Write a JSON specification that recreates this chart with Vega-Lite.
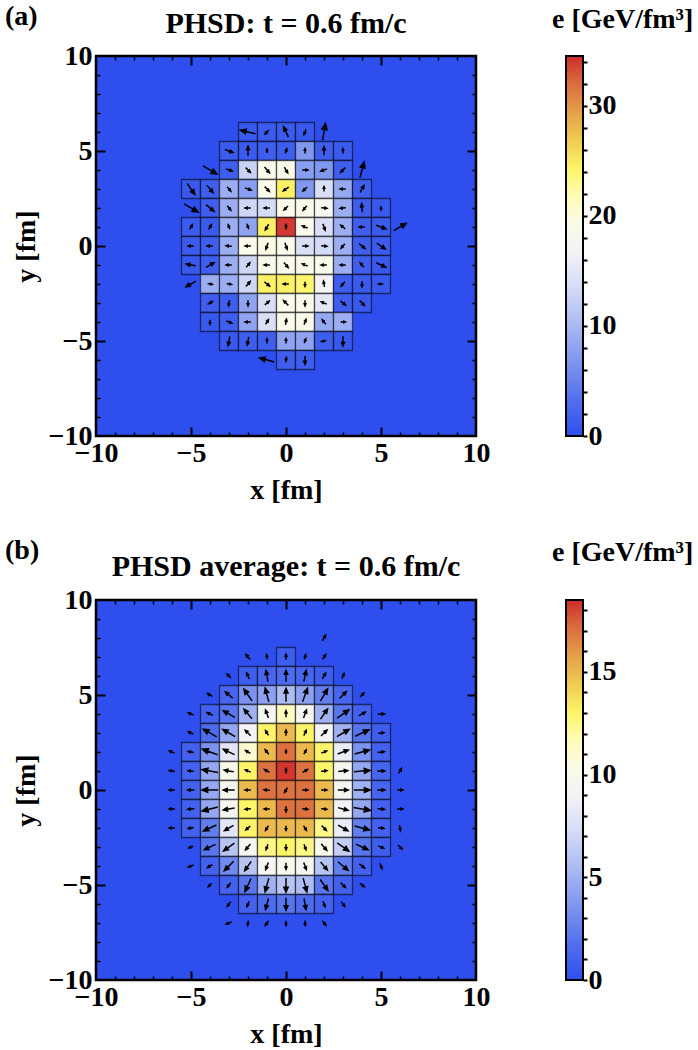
{
  "$schema": "https://vega.github.io/schema/vega-lite/v6.json",
  "background": "white",
  "padding": {"left": 5, "top": 3, "right": 5, "bottom": 0},
  "config": {
    "font": "Liberation Serif",
    "view": {"stroke": null},
    "title": {"font": "Liberation Serif", "fontSize": 28, "fontWeight": "bold", "color": "black", "baseline": "alphabetic"},
    "axis": {
      "labelFont": "Liberation Serif", "labelFontSize": 28, "labelFontWeight": "bold", "labelColor": "black",
      "titleFont": "Liberation Serif", "titleFontSize": 28, "titleFontWeight": "bold", "titleColor": "black",
      "grid": false, "domain": false, "tickColor": "black"
    }
  },
  "datasets": {
    "a": [
      {"x":-2,"y":6,"e":1,"a":283,"L":0.8},
      {"x":-1,"y":6,"e":1.2,"a":225,"L":0.3},
      {"x":0,"y":6,"e":1.2,"a":335,"L":0.6},
      {"x":1,"y":6,"e":1,"a":200,"L":0.3},
      {"x":2,"y":6,"a":10,"L":0.9},
      {"x":-3,"y":5,"e":1.2,"a":110,"L":0.45},
      {"x":-2,"y":5,"e":1.2,"a":0,"L":0.5},
      {"x":-1,"y":5,"e":1.5,"a":0,"L":0.2},
      {"x":0,"y":5,"e":1.5,"a":20,"L":0.25},
      {"x":1,"y":5,"e":7,"a":0,"L":0.25},
      {"x":2,"y":5,"e":1.5,"a":0,"L":0.45},
      {"x":3,"y":5,"e":1.2,"a":0,"L":0.25},
      {"x":-4,"y":4,"a":120,"L":0.85},
      {"x":-3,"y":4,"e":1.5,"a":110,"L":0.35},
      {"x":-2,"y":4,"e":12.5,"a":135,"L":0.35},
      {"x":-1,"y":4,"e":19,"a":140,"L":0.4},
      {"x":0,"y":4,"e":19,"a":150,"L":0.35},
      {"x":1,"y":4,"e":7.5,"a":90,"L":0.3},
      {"x":2,"y":4,"e":7,"a":250,"L":0.35},
      {"x":3,"y":4,"e":1.5,"a":225,"L":0.35},
      {"x":4,"y":4,"a":15,"L":0.85},
      {"x":-5,"y":3,"e":1,"a":145,"L":0.7},
      {"x":-4,"y":3,"e":1.5,"a":140,"L":0.5},
      {"x":-3,"y":3,"e":9,"a":140,"L":0.3},
      {"x":-2,"y":3,"e":7.5,"a":110,"L":0.35},
      {"x":-1,"y":3,"e":19,"a":135,"L":0.35},
      {"x":0,"y":3,"e":24.5,"a":235,"L":0.35},
      {"x":1,"y":3,"e":7,"a":225,"L":0.3},
      {"x":2,"y":3,"e":14,"a":0,"L":0.25},
      {"x":3,"y":3,"e":8.5,"a":270,"L":0.3},
      {"x":4,"y":3,"e":1.5,"a":30,"L":0.4},
      {"x":-5,"y":2,"a":120,"L":0.85},
      {"x":-4,"y":2,"e":1.5,"a":130,"L":0.55},
      {"x":-3,"y":2,"e":9,"a":140,"L":0.3},
      {"x":-2,"y":2,"e":13,"a":270,"L":0.3},
      {"x":-1,"y":2,"e":13.5,"a":270,"L":0.3},
      {"x":0,"y":2,"e":19,"a":225,"L":0.3},
      {"x":1,"y":2,"e":19,"a":220,"L":0.3},
      {"x":2,"y":2,"e":18,"a":95,"L":0.3},
      {"x":3,"y":2,"e":9,"a":265,"L":0.3},
      {"x":4,"y":2,"e":1.5,"a":355,"L":0.45},
      {"x":5,"y":2,"e":1,"a":180,"L":0.2},
      {"x":-5,"y":1,"e":1.2,"a":30,"L":0.3},
      {"x":-4,"y":1,"e":1.2,"a":30,"L":0.3},
      {"x":-3,"y":1,"e":9,"a":340,"L":0.25},
      {"x":-2,"y":1,"e":8,"a":340,"L":0.25},
      {"x":-1,"y":1,"e":24.5,"a":210,"L":0.35},
      {"x":0,"y":1,"e":34,"a":0,"L":0.25},
      {"x":1,"y":1,"e":19,"a":290,"L":0.3},
      {"x":2,"y":1,"e":14,"a":160,"L":0.35},
      {"x":3,"y":1,"e":9,"a":310,"L":0.3},
      {"x":4,"y":1,"e":1.5,"a":270,"L":0.3},
      {"x":5,"y":1,"e":1.2,"a":110,"L":0.55},
      {"x":6,"y":1,"a":60,"L":0.75},
      {"x":-5,"y":0,"e":1.2,"a":270,"L":0.3},
      {"x":-4,"y":0,"e":1.5,"a":270,"L":0.3},
      {"x":-3,"y":0,"e":9,"a":275,"L":0.3},
      {"x":-2,"y":0,"e":19,"a":270,"L":0.3},
      {"x":-1,"y":0,"e":19.5,"a":200,"L":0.35},
      {"x":0,"y":0,"e":19,"a":160,"L":0.35},
      {"x":1,"y":0,"e":14,"a":90,"L":0.3},
      {"x":2,"y":0,"e":13.5,"a":95,"L":0.3},
      {"x":3,"y":0,"e":9,"a":220,"L":0.3},
      {"x":4,"y":0,"e":1.5,"a":130,"L":0.4},
      {"x":5,"y":0,"e":1.2,"a":125,"L":0.55},
      {"x":-5,"y":-1,"e":1,"a":280,"L":0.5},
      {"x":-4,"y":-1,"e":1.5,"a":60,"L":0.5},
      {"x":-3,"y":-1,"e":9,"a":270,"L":0.3},
      {"x":-2,"y":-1,"e":13,"a":40,"L":0.3},
      {"x":-1,"y":-1,"e":19,"a":270,"L":0.3},
      {"x":0,"y":-1,"e":19,"a":140,"L":0.35},
      {"x":1,"y":-1,"e":19,"a":290,"L":0.3},
      {"x":2,"y":-1,"e":19,"a":270,"L":0.3},
      {"x":3,"y":-1,"e":9,"a":270,"L":0.3},
      {"x":4,"y":-1,"e":1.5,"a":320,"L":0.3},
      {"x":5,"y":-1,"e":1,"a":115,"L":0.55},
      {"x":-5,"y":-2,"a":240,"L":0.6},
      {"x":-4,"y":-2,"e":9,"a":100,"L":0.25},
      {"x":-3,"y":-2,"e":9,"a":100,"L":0.25},
      {"x":-2,"y":-2,"e":13,"a":40,"L":0.35},
      {"x":-1,"y":-2,"e":24.5,"a":130,"L":0.35},
      {"x":0,"y":-2,"e":24.5,"a":270,"L":0.3},
      {"x":1,"y":-2,"e":24,"a":180,"L":0.25},
      {"x":2,"y":-2,"e":17,"a":350,"L":0.3},
      {"x":3,"y":-2,"e":1.5,"a":220,"L":0.3},
      {"x":4,"y":-2,"e":1.2,"a":180,"L":0.3},
      {"x":5,"y":-2,"e":1,"a":270,"L":0.25},
      {"x":-4,"y":-3,"e":1.5,"a":60,"L":0.3},
      {"x":-3,"y":-3,"e":1.5,"a":190,"L":0.3},
      {"x":-2,"y":-3,"e":8,"a":180,"L":0.3},
      {"x":-1,"y":-3,"e":14,"a":50,"L":0.3},
      {"x":0,"y":-3,"e":19,"a":315,"L":0.35},
      {"x":1,"y":-3,"e":19,"a":180,"L":0.3},
      {"x":2,"y":-3,"e":15,"a":290,"L":0.3},
      {"x":3,"y":-3,"e":1.5,"a":130,"L":0.35},
      {"x":4,"y":-3,"e":1,"a":135,"L":0.35},
      {"x":-4,"y":-4,"e":1,"a":180,"L":0.25},
      {"x":-3,"y":-4,"e":1.5,"a":110,"L":0.3},
      {"x":-2,"y":-4,"e":8,"a":270,"L":0.3},
      {"x":-1,"y":-4,"e":14,"a":30,"L":0.3},
      {"x":0,"y":-4,"e":19,"a":10,"L":0.3},
      {"x":1,"y":-4,"e":19,"a":20,"L":0.3},
      {"x":2,"y":-4,"e":8.5,"a":320,"L":0.3},
      {"x":3,"y":-4,"e":9,"a":90,"L":0.25},
      {"x":-3,"y":-5,"e":1,"a":190,"L":0.5},
      {"x":-2,"y":-5,"e":1.5,"a":190,"L":0.45},
      {"x":-1,"y":-5,"e":1.5,"a":0,"L":0.25},
      {"x":0,"y":-5,"e":8,"a":0,"L":0.25},
      {"x":1,"y":-5,"e":8,"a":20,"L":0.25},
      {"x":2,"y":-5,"e":1.5,"a":260,"L":0.25},
      {"x":3,"y":-5,"e":1,"a":180,"L":0.5},
      {"x":-1,"y":-6,"a":285,"L":0.8},
      {"x":0,"y":-6,"e":1.5,"a":10,"L":0.25},
      {"x":1,"y":-6,"e":1.5,"a":180,"L":0.45}
    ],
    "b": [
      {"x":2,"y":8,"a":30,"L":0.35},
      {"x":-2,"y":7,"a":320,"L":0.35},
      {"x":-1,"y":7,"a":350,"L":0.25},
      {"x":0,"y":7,"e":0.8,"a":0,"L":0.3},
      {"x":1,"y":7,"a":15,"L":0.25},
      {"x":2,"y":7,"a":35,"L":0.3},
      {"x":-3,"y":6,"a":315,"L":0.3},
      {"x":-2,"y":6,"e":0.8,"a":335,"L":0.35},
      {"x":-1,"y":6,"e":1.2,"a":350,"L":0.6},
      {"x":0,"y":6,"e":1.5,"a":0,"L":0.6},
      {"x":1,"y":6,"e":1.2,"a":12,"L":0.6},
      {"x":2,"y":6,"e":0.8,"a":30,"L":0.35},
      {"x":3,"y":6,"a":20,"L":0.3},
      {"x":-4,"y":5,"a":300,"L":0.3},
      {"x":-3,"y":5,"e":1.2,"a":310,"L":0.5},
      {"x":-2,"y":5,"e":3.5,"a":325,"L":0.75},
      {"x":-1,"y":5,"e":4.2,"a":345,"L":0.75},
      {"x":0,"y":5,"e":5.5,"a":0,"L":0.7},
      {"x":1,"y":5,"e":4.2,"a":20,"L":0.75},
      {"x":2,"y":5,"e":2.5,"a":30,"L":0.75},
      {"x":3,"y":5,"e":1.2,"a":45,"L":0.5},
      {"x":4,"y":5,"a":45,"L":0.3},
      {"x":-5,"y":4,"a":290,"L":0.3},
      {"x":-4,"y":4,"e":1,"a":295,"L":0.35},
      {"x":-3,"y":4,"e":2,"a":300,"L":0.7},
      {"x":-2,"y":4,"e":5,"a":320,"L":0.65},
      {"x":-1,"y":4,"e":9.5,"a":340,"L":0.45},
      {"x":0,"y":4,"e":11.5,"a":0,"L":0.35},
      {"x":1,"y":4,"e":9.5,"a":20,"L":0.45},
      {"x":2,"y":4,"e":5,"a":35,"L":0.65},
      {"x":3,"y":4,"e":2,"a":55,"L":0.75},
      {"x":4,"y":4,"e":1,"a":60,"L":0.4},
      {"x":5,"y":4,"a":90,"L":0.35},
      {"x":-5,"y":3,"a":290,"L":0.3},
      {"x":-4,"y":3,"e":1.5,"a":300,"L":0.8},
      {"x":-3,"y":3,"e":4.5,"a":300,"L":0.75},
      {"x":-2,"y":3,"e":9,"a":315,"L":0.4},
      {"x":-1,"y":3,"e":13,"a":330,"L":0.3},
      {"x":0,"y":3,"e":15,"a":0,"L":0.3},
      {"x":1,"y":3,"e":13,"a":25,"L":0.3},
      {"x":2,"y":3,"e":9,"a":45,"L":0.45},
      {"x":3,"y":3,"e":5,"a":60,"L":0.75},
      {"x":4,"y":3,"e":2,"a":65,"L":0.8},
      {"x":5,"y":3,"e":0.8,"a":85,"L":0.3},
      {"x":-6,"y":2,"a":290,"L":0.3},
      {"x":-5,"y":2,"e":1,"a":280,"L":0.3},
      {"x":-4,"y":2,"e":3.5,"a":290,"L":0.85},
      {"x":-3,"y":2,"e":8,"a":295,"L":0.65},
      {"x":-2,"y":2,"e":11,"a":300,"L":0.3},
      {"x":-1,"y":2,"e":15,"a":320,"L":0.3},
      {"x":0,"y":2,"e":17,"a":0,"L":0.2},
      {"x":1,"y":2,"e":15,"a":30,"L":0.25},
      {"x":2,"y":2,"e":13,"a":70,"L":0.3},
      {"x":3,"y":2,"e":8.5,"a":70,"L":0.6},
      {"x":4,"y":2,"e":3.5,"a":75,"L":0.8},
      {"x":5,"y":2,"e":1,"a":85,"L":0.35},
      {"x":-6,"y":1,"a":280,"L":0.3},
      {"x":-5,"y":1,"e":1,"a":275,"L":0.3},
      {"x":-4,"y":1,"e":4.5,"a":280,"L":0.85},
      {"x":-3,"y":1,"e":10,"a":280,"L":0.5},
      {"x":-2,"y":1,"e":13,"a":290,"L":0.3},
      {"x":-1,"y":1,"e":17,"a":300,"L":0.3},
      {"x":0,"y":1,"e":18.3,"a":0,"L":0.25},
      {"x":1,"y":1,"e":17,"a":60,"L":0.3},
      {"x":2,"y":1,"e":13,"a":85,"L":0.3},
      {"x":3,"y":1,"e":9.5,"a":85,"L":0.5},
      {"x":4,"y":1,"e":4.5,"a":85,"L":0.85},
      {"x":5,"y":1,"e":1.2,"a":90,"L":0.4},
      {"x":6,"y":1,"a":30,"L":0.3},
      {"x":-6,"y":0,"a":270,"L":0.3},
      {"x":-5,"y":0,"e":1,"a":270,"L":0.35},
      {"x":-4,"y":0,"e":4.5,"a":270,"L":0.85},
      {"x":-3,"y":0,"e":9.5,"a":270,"L":0.6},
      {"x":-2,"y":0,"e":15,"a":270,"L":0.3},
      {"x":-1,"y":0,"e":17,"a":275,"L":0.3},
      {"x":0,"y":0,"e":17,"a":210,"L":0.3},
      {"x":1,"y":0,"e":17,"a":90,"L":0.3},
      {"x":2,"y":0,"e":15,"a":90,"L":0.3},
      {"x":3,"y":0,"e":9.5,"a":90,"L":0.55},
      {"x":4,"y":0,"e":5,"a":90,"L":0.85},
      {"x":5,"y":0,"e":1.2,"a":90,"L":0.4},
      {"x":6,"y":0,"a":90,"L":0.3},
      {"x":-6,"y":-1,"a":270,"L":0.3},
      {"x":-5,"y":-1,"e":1,"a":265,"L":0.35},
      {"x":-4,"y":-1,"e":4.5,"a":255,"L":0.85},
      {"x":-3,"y":-1,"e":9.5,"a":260,"L":0.6},
      {"x":-2,"y":-1,"e":13,"a":265,"L":0.3},
      {"x":-1,"y":-1,"e":15,"a":270,"L":0.3},
      {"x":0,"y":-1,"e":17,"a":180,"L":0.3},
      {"x":1,"y":-1,"e":17,"a":95,"L":0.3},
      {"x":2,"y":-1,"e":15,"a":95,"L":0.3},
      {"x":3,"y":-1,"e":9,"a":105,"L":0.55},
      {"x":4,"y":-1,"e":4.5,"a":100,"L":0.9},
      {"x":5,"y":-1,"e":1,"a":95,"L":0.35},
      {"x":6,"y":-1,"a":90,"L":0.3},
      {"x":-6,"y":-2,"a":270,"L":0.3},
      {"x":-5,"y":-2,"e":1,"a":260,"L":0.3},
      {"x":-4,"y":-2,"e":2.5,"a":245,"L":0.75},
      {"x":-3,"y":-2,"e":8,"a":240,"L":0.55},
      {"x":-2,"y":-2,"e":13,"a":230,"L":0.3},
      {"x":-1,"y":-2,"e":15,"a":210,"L":0.3},
      {"x":0,"y":-2,"e":15,"a":180,"L":0.25},
      {"x":1,"y":-2,"e":15,"a":150,"L":0.3},
      {"x":2,"y":-2,"e":12.5,"a":135,"L":0.35},
      {"x":3,"y":-2,"e":8.5,"a":120,"L":0.6},
      {"x":4,"y":-2,"e":2.5,"a":105,"L":0.8},
      {"x":5,"y":-2,"e":1,"a":95,"L":0.3},
      {"x":6,"y":-2,"a":170,"L":0.3},
      {"x":-5,"y":-3,"a":250,"L":0.25},
      {"x":-4,"y":-3,"e":2,"a":245,"L":0.65},
      {"x":-3,"y":-3,"e":6,"a":235,"L":0.7},
      {"x":-2,"y":-3,"e":9.5,"a":220,"L":0.4},
      {"x":-1,"y":-3,"e":12.5,"a":200,"L":0.3},
      {"x":0,"y":-3,"e":13,"a":180,"L":0.3},
      {"x":1,"y":-3,"e":12.5,"a":160,"L":0.3},
      {"x":2,"y":-3,"e":10,"a":140,"L":0.45},
      {"x":3,"y":-3,"e":6.5,"a":125,"L":0.75},
      {"x":4,"y":-3,"e":2,"a":115,"L":0.7},
      {"x":5,"y":-3,"e":0.8,"a":110,"L":0.3},
      {"x":6,"y":-3,"a":135,"L":0.3},
      {"x":-5,"y":-4,"a":250,"L":0.3},
      {"x":-4,"y":-4,"e":1,"a":240,"L":0.3},
      {"x":-3,"y":-4,"e":3,"a":225,"L":0.7},
      {"x":-2,"y":-4,"e":6,"a":215,"L":0.6},
      {"x":-1,"y":-4,"e":9.5,"a":200,"L":0.4},
      {"x":0,"y":-4,"e":10,"a":180,"L":0.35},
      {"x":1,"y":-4,"e":9.5,"a":160,"L":0.4},
      {"x":2,"y":-4,"e":6,"a":140,"L":0.55},
      {"x":3,"y":-4,"e":2.5,"a":130,"L":0.7},
      {"x":4,"y":-4,"e":1,"a":130,"L":0.35},
      {"x":5,"y":-4,"a":160,"L":0.3},
      {"x":-4,"y":-5,"a":225,"L":0.25},
      {"x":-3,"y":-5,"e":1,"a":220,"L":0.3},
      {"x":-2,"y":-5,"e":2,"a":205,"L":0.75},
      {"x":-1,"y":-5,"e":5,"a":195,"L":0.75},
      {"x":0,"y":-5,"e":6,"a":180,"L":0.75},
      {"x":1,"y":-5,"e":5.5,"a":165,"L":0.75},
      {"x":2,"y":-5,"e":2,"a":145,"L":0.7},
      {"x":3,"y":-5,"e":1,"a":135,"L":0.35},
      {"x":4,"y":-5,"a":130,"L":0.3},
      {"x":-3,"y":-6,"a":215,"L":0.3},
      {"x":-2,"y":-6,"e":1,"a":205,"L":0.3},
      {"x":-1,"y":-6,"e":1.5,"a":195,"L":0.6},
      {"x":0,"y":-6,"e":2,"a":180,"L":0.65},
      {"x":1,"y":-6,"e":1.5,"a":170,"L":0.6},
      {"x":2,"y":-6,"e":1,"a":160,"L":0.3},
      {"x":3,"y":-6,"a":145,"L":0.3},
      {"x":-3,"y":-7,"a":250,"L":0.3},
      {"x":-2,"y":-7,"a":190,"L":0.25},
      {"x":-1,"y":-7,"a":215,"L":0.3},
      {"x":0,"y":-7,"a":180,"L":0.25},
      {"x":1,"y":-7,"a":175,"L":0.25},
      {"x":2,"y":-7,"a":140,"L":0.3}
    ]
  },
  "resolve": {"scale": {"color": "independent"}},
  "spacing": 31,
  "vconcat": [
    {
      "bounds": "flush",
      "spacing": 90,
      "hconcat": [
        {
          "width": 1, "height": 380,
          "data": {"values": []},
          "mark": "point",
          "title": {"text": "(a)", "anchor": "start", "offset": 25}
        },
        {
          "width": 380, "height": 380,
          "data": {"name": "a"},
          "title": {"text": "PHSD: t = 0.6 fm/c", "anchor": "middle", "offset": 3, "fontSize": 30},
          "view": {"fill": "#2E4EEE", "stroke": "black", "strokeWidth": 2.5},
          "layer": [
            {
              "transform": [{"filter": "isValid(datum.e)"}],
              "mark": {"type": "rect", "width": 19, "height": 19, "stroke": "black", "strokeOpacity": 0.55, "strokeWidth": 1.3},
              "encoding": {
                "x": {"field": "x", "type": "quantitative", "scale": {"domain": [-10, 10], "nice": false, "zero": false},
                      "axis": {"orient": "bottom", "values": [-10, -5, 0, 5, 10], "ticks": false, "labelFlush": false, "labelPadding": 3, "title": "x [fm]", "titlePadding": 9}},
                "y": {"field": "y", "type": "quantitative", "scale": {"domain": [-10, 10], "nice": false, "zero": false},
                      "axis": {"orient": "left", "values": [-10, -5, 0, 5, 10], "ticks": false, "labelFlush": false, "labelPadding": 4, "title": "y [fm]", "titlePadding": 8}},
                "color": {"field": "e", "type": "quantitative", "legend": null,
                          "scale": {"type": "linear", "interpolate": "rgb", "clamp": true,
                                    "domain": [0, 3.45, 6.9, 10.35, 13.8, 16.56, 19.32, 21.735, 24.15, 26.91, 29.67, 32.085, 34.5],
                                    "range": ["#2E4EEE", "#5472EE", "#8097EF", "#AEBDF2", "#D8DEF6", "#F2F2F6", "#FBFBE8", "#FDFBB8", "#FDF66A", "#EFCB50", "#E49B48", "#DA6A3E", "#D02C2C"]}}
              }
            },
            {
              "mark": {"type": "point", "shape": "M0,1L0,-0.35M-0.3,-0.3L0,-1L0.3,-0.3Z", "filled": true, "fill": "black", "stroke": "black", "strokeWidth": 1.5, "opacity": 1},
              "encoding": {
                "x": {"field": "x", "type": "quantitative", "scale": {"domain": [-10, 10], "nice": false, "zero": false},
                      "axis": {"orient": "bottom", "values": [-9, -8, -7, -6, -4, -3, -2, -1, 1, 2, 3, 4, 6, 7, 8, 9], "labels": false, "tickSize": -4, "tickWidth": 1.5, "title": null}},
                "y": {"field": "y", "type": "quantitative", "scale": {"domain": [-10, 10], "nice": false, "zero": false},
                      "axis": {"orient": "left", "values": [-9, -8, -7, -6, -4, -3, -2, -1, 1, 2, 3, 4, 6, 7, 8, 9], "labels": false, "tickSize": -4, "tickWidth": 1.5, "title": null}},
                "angle": {"field": "a", "type": "quantitative", "scale": {"domain": [0, 360], "range": [0, 360]}, "legend": null},
                "size": {"field": "L", "type": "quantitative", "scale": {"type": "pow", "exponent": 2, "domain": [0, 1], "range": [0, 361]}, "legend": null}
              }
            },
            {
              "mark": {"type": "point", "opacity": 0},
              "encoding": {
                "x": {"field": "x", "type": "quantitative", "scale": {"domain": [-10, 10], "nice": false, "zero": false},
                      "axis": {"orient": "bottom", "values": [-5, 0, 5], "labels": false, "tickSize": -9, "tickWidth": 2, "title": null}},
                "y": {"field": "y", "type": "quantitative", "scale": {"domain": [-10, 10], "nice": false, "zero": false},
                      "axis": {"orient": "left", "values": [-5, 0, 5], "labels": false, "tickSize": -9, "tickWidth": 2, "title": null}}
              }
            },
            {
              "mark": {"type": "point", "opacity": 0},
              "encoding": {
                "x": {"field": "x", "type": "quantitative", "scale": {"domain": [-10, 10], "nice": false, "zero": false},
                      "axis": {"orient": "top", "values": [-9, -8, -7, -6, -4, -3, -2, -1, 1, 2, 3, 4, 6, 7, 8, 9], "labels": false, "tickSize": -4, "tickWidth": 1.5, "title": null}},
                "y": {"field": "y", "type": "quantitative", "scale": {"domain": [-10, 10], "nice": false, "zero": false},
                      "axis": {"orient": "right", "values": [-9, -8, -7, -6, -4, -3, -2, -1, 1, 2, 3, 4, 6, 7, 8, 9], "labels": false, "tickSize": -4, "tickWidth": 1.5, "title": null}}
              }
            },
            {
              "mark": {"type": "point", "opacity": 0},
              "encoding": {
                "x": {"field": "x", "type": "quantitative", "scale": {"domain": [-10, 10], "nice": false, "zero": false},
                      "axis": {"orient": "top", "values": [-5, 0, 5], "labels": false, "tickSize": -9, "tickWidth": 2, "title": null}},
                "y": {"field": "y", "type": "quantitative", "scale": {"domain": [-10, 10], "nice": false, "zero": false},
                      "axis": {"orient": "right", "values": [-5, 0, 5], "labels": false, "tickSize": -9, "tickWidth": 2, "title": null}}
              }
            }
          ],
          "resolve": {"axis": {"x": "independent", "y": "independent"}}
        },
        {
          "width": 17, "height": 380,
          "data": {"values": [{}]},
          "title": {"text": "e [GeV/fm³]", "anchor": "start", "dx": -13, "offset": 21},
          "mark": {"type": "rect", "stroke": "black", "strokeWidth": 2,
                   "fill": {"gradient": "linear", "x1": 0, "y1": 1, "x2": 0, "y2": 0,
                            "stops": [{"offset": 0, "color": "#2E4EEE"}, {"offset": 0.1, "color": "#5472EE"}, {"offset": 0.2, "color": "#8097EF"}, {"offset": 0.3, "color": "#AEBDF2"}, {"offset": 0.4, "color": "#D8DEF6"}, {"offset": 0.48, "color": "#F2F2F6"}, {"offset": 0.56, "color": "#FBFBE8"}, {"offset": 0.63, "color": "#FDFBB8"}, {"offset": 0.7, "color": "#FDF66A"}, {"offset": 0.78, "color": "#EFCB50"}, {"offset": 0.86, "color": "#E49B48"}, {"offset": 0.93, "color": "#DA6A3E"}, {"offset": 1, "color": "#D02C2C"}]}},
          "encoding": {
            "y": {"datum": 0, "type": "quantitative", "scale": {"domain": [0, 34.5], "nice": false, "zero": false},
                  "axis": {"orient": "right", "values": [0, 2, 4, 6, 8, 10, 12, 14, 16, 18, 20, 22, 24, 26, 28, 30, 32, 34], "labelExpr": "datum.value % 10 === 0 ? datum.label : ''", "tickSize": 4, "tickWidth": 2, "labelPadding": 1, "title": null}},
            "y2": {"datum": 34.5}
          }
        }
      ]
    },
    {
      "bounds": "flush",
      "spacing": 90,
      "hconcat": [
        {
          "width": 1, "height": 380,
          "data": {"values": []},
          "mark": "point",
          "title": {"text": "(b)", "anchor": "start", "offset": 35}
        },
        {
          "width": 380, "height": 380,
          "data": {"name": "b"},
          "title": {"text": "PHSD average: t = 0.6 fm/c", "anchor": "middle", "offset": 4, "fontSize": 30},
          "view": {"fill": "#2E4EEE", "stroke": "black", "strokeWidth": 2.5},
          "layer": [
            {
              "transform": [{"filter": "isValid(datum.e)"}],
              "mark": {"type": "rect", "width": 19, "height": 19, "stroke": "black", "strokeOpacity": 0.55, "strokeWidth": 1.3},
              "encoding": {
                "x": {"field": "x", "type": "quantitative", "scale": {"domain": [-10, 10], "nice": false, "zero": false},
                      "axis": {"orient": "bottom", "values": [-10, -5, 0, 5, 10], "ticks": false, "labelFlush": false, "labelPadding": 3, "title": "x [fm]", "titlePadding": 9}},
                "y": {"field": "y", "type": "quantitative", "scale": {"domain": [-10, 10], "nice": false, "zero": false},
                      "axis": {"orient": "left", "values": [-10, -5, 0, 5, 10], "ticks": false, "labelFlush": false, "labelPadding": 4, "title": "y [fm]", "titlePadding": 8}},
                "color": {"field": "e", "type": "quantitative", "legend": null,
                          "scale": {"type": "linear", "interpolate": "rgb", "clamp": true,
                                    "domain": [0, 1.85, 3.7, 5.55, 7.4, 8.88, 10.36, 11.655, 12.95, 14.43, 15.91, 17.205, 18.5],
                                    "range": ["#2E4EEE", "#5472EE", "#8097EF", "#AEBDF2", "#D8DEF6", "#F2F2F6", "#FBFBE8", "#FDFBB8", "#FDF66A", "#EFCB50", "#E49B48", "#DA6A3E", "#D02C2C"]}}
              }
            },
            {
              "mark": {"type": "point", "shape": "M0,1L0,-0.35M-0.3,-0.3L0,-1L0.3,-0.3Z", "filled": true, "fill": "black", "stroke": "black", "strokeWidth": 1.5, "opacity": 1},
              "encoding": {
                "x": {"field": "x", "type": "quantitative", "scale": {"domain": [-10, 10], "nice": false, "zero": false},
                      "axis": {"orient": "bottom", "values": [-9, -8, -7, -6, -4, -3, -2, -1, 1, 2, 3, 4, 6, 7, 8, 9], "labels": false, "tickSize": -4, "tickWidth": 1.5, "title": null}},
                "y": {"field": "y", "type": "quantitative", "scale": {"domain": [-10, 10], "nice": false, "zero": false},
                      "axis": {"orient": "left", "values": [-9, -8, -7, -6, -4, -3, -2, -1, 1, 2, 3, 4, 6, 7, 8, 9], "labels": false, "tickSize": -4, "tickWidth": 1.5, "title": null}},
                "angle": {"field": "a", "type": "quantitative", "scale": {"domain": [0, 360], "range": [0, 360]}, "legend": null},
                "size": {"field": "L", "type": "quantitative", "scale": {"type": "pow", "exponent": 2, "domain": [0, 1], "range": [0, 361]}, "legend": null}
              }
            },
            {
              "mark": {"type": "point", "opacity": 0},
              "encoding": {
                "x": {"field": "x", "type": "quantitative", "scale": {"domain": [-10, 10], "nice": false, "zero": false},
                      "axis": {"orient": "bottom", "values": [-5, 0, 5], "labels": false, "tickSize": -9, "tickWidth": 2, "title": null}},
                "y": {"field": "y", "type": "quantitative", "scale": {"domain": [-10, 10], "nice": false, "zero": false},
                      "axis": {"orient": "left", "values": [-5, 0, 5], "labels": false, "tickSize": -9, "tickWidth": 2, "title": null}}
              }
            },
            {
              "mark": {"type": "point", "opacity": 0},
              "encoding": {
                "x": {"field": "x", "type": "quantitative", "scale": {"domain": [-10, 10], "nice": false, "zero": false},
                      "axis": {"orient": "top", "values": [-9, -8, -7, -6, -4, -3, -2, -1, 1, 2, 3, 4, 6, 7, 8, 9], "labels": false, "tickSize": -4, "tickWidth": 1.5, "title": null}},
                "y": {"field": "y", "type": "quantitative", "scale": {"domain": [-10, 10], "nice": false, "zero": false},
                      "axis": {"orient": "right", "values": [-9, -8, -7, -6, -4, -3, -2, -1, 1, 2, 3, 4, 6, 7, 8, 9], "labels": false, "tickSize": -4, "tickWidth": 1.5, "title": null}}
              }
            },
            {
              "mark": {"type": "point", "opacity": 0},
              "encoding": {
                "x": {"field": "x", "type": "quantitative", "scale": {"domain": [-10, 10], "nice": false, "zero": false},
                      "axis": {"orient": "top", "values": [-5, 0, 5], "labels": false, "tickSize": -9, "tickWidth": 2, "title": null}},
                "y": {"field": "y", "type": "quantitative", "scale": {"domain": [-10, 10], "nice": false, "zero": false},
                      "axis": {"orient": "right", "values": [-5, 0, 5], "labels": false, "tickSize": -9, "tickWidth": 2, "title": null}}
              }
            }
          ],
          "resolve": {"axis": {"x": "independent", "y": "independent"}}
        },
        {
          "width": 17, "height": 380,
          "data": {"values": [{}]},
          "title": {"text": "e [GeV/fm³]", "anchor": "start", "dx": -13, "offset": 32},
          "mark": {"type": "rect", "stroke": "black", "strokeWidth": 2,
                   "fill": {"gradient": "linear", "x1": 0, "y1": 1, "x2": 0, "y2": 0,
                            "stops": [{"offset": 0, "color": "#2E4EEE"}, {"offset": 0.1, "color": "#5472EE"}, {"offset": 0.2, "color": "#8097EF"}, {"offset": 0.3, "color": "#AEBDF2"}, {"offset": 0.4, "color": "#D8DEF6"}, {"offset": 0.48, "color": "#F2F2F6"}, {"offset": 0.56, "color": "#FBFBE8"}, {"offset": 0.63, "color": "#FDFBB8"}, {"offset": 0.7, "color": "#FDF66A"}, {"offset": 0.78, "color": "#EFCB50"}, {"offset": 0.86, "color": "#E49B48"}, {"offset": 0.93, "color": "#DA6A3E"}, {"offset": 1, "color": "#D02C2C"}]}},
          "encoding": {
            "y": {"datum": 0, "type": "quantitative", "scale": {"domain": [0, 18.5], "nice": false, "zero": false},
                  "axis": {"orient": "right", "values": [0, 1, 2, 3, 4, 5, 6, 7, 8, 9, 10, 11, 12, 13, 14, 15, 16, 17, 18], "labelExpr": "datum.value % 5 === 0 ? datum.label : ''", "tickSize": 4, "tickWidth": 2, "labelPadding": 1, "title": null}},
            "y2": {"datum": 18.5}
          }
        }
      ]
    }
  ]
}
